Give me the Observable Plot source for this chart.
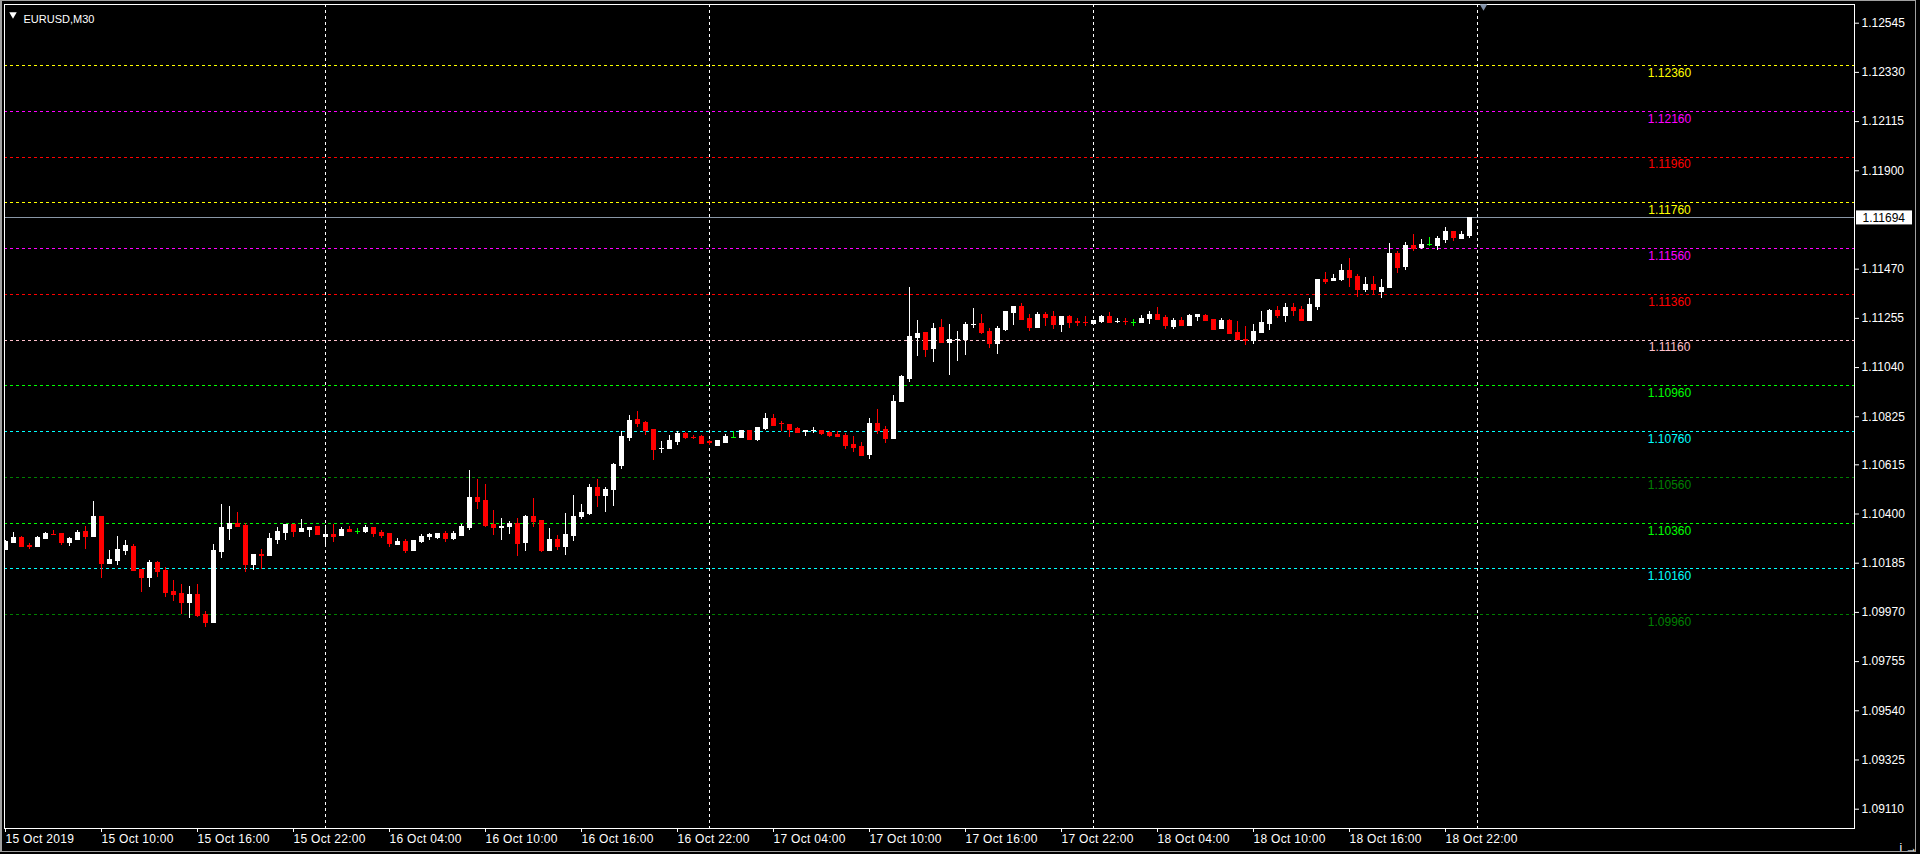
<!DOCTYPE html>
<html><head><meta charset="utf-8">
<script src="https://cdn.jsdelivr.net/npm/d3@7"></script>
<script src="https://cdn.jsdelivr.net/npm/@observablehq/plot@0.6"></script>
<style>
html,body{margin:0;padding:0;background:#000;width:1920px;height:854px;overflow:hidden;}
#chart{position:absolute;left:0;top:0;}
#edge{position:absolute;left:0;top:0;width:1913px;height:850px;border:1px solid #a0a0a0;border-left:2px solid #a0a0a0;pointer-events:none;}
</style></head><body>
<div id="chart"></div><div id="edge"></div>
<script>
const symbolTitle = "EURUSD,M30";

// M30 bars, first bar 15 Oct 2019 04:00
const open = [
1.10244,1.10275,1.10296,1.10262,1.10257,1.10292,1.10312,1.10314,1.10275,1.10288,
1.10322,1.10301,1.10388,1.10183,1.10196,1.10240,1.10257,1.10157,1.10122,1.10188,
1.10153,1.10062,1.10053,1.10014,1.10048,1.09962,1.09927,1.10235,1.10335,1.10357,
1.10348,1.10179,1.10222,1.10218,1.10288,1.10318,1.10353,1.10322,1.10331,1.10344,
1.10302,1.10309,1.10305,1.10331,1.10324,1.10322,1.10340,1.10318,1.10314,1.10266,
1.10279,1.10240,1.10279,1.10301,1.10296,1.10314,1.10292,1.10305,1.10340,1.10474,
1.10457,1.10353,1.10343,1.10344,1.10357,1.10275,1.10388,1.10370,1.10240,1.10288,
1.10257,1.10305,1.10388,1.10401,1.10518,1.10483,1.10509,1.10614,1.10736,1.10814,
1.10801,1.10770,1.10686,1.10688,1.10718,1.10753,1.10736,1.10740,1.10715,1.10701,
1.10714,1.10735,1.10735,1.10766,1.10727,1.10774,1.10818,1.10797,1.10792,1.10774,
1.10761,1.10763,1.10766,1.10757,1.10748,1.10744,1.10705,1.10696,1.10661,1.10796,
1.10770,1.10731,1.10892,1.10992,1.11170,1.11192,1.11122,1.11214,1.11148,1.11162,
1.11161,1.11228,1.11231,1.11196,1.11144,1.11205,1.11279,1.11309,1.11253,1.11214,
1.11270,1.11261,1.11227,1.11261,1.11241,1.11238,1.11231,1.11240,1.11261,1.11240,
1.11243,1.11235,1.11235,1.11253,1.11274,1.11257,1.11218,1.11244,1.11222,1.11261,
1.11266,1.11248,1.11209,1.11244,1.11192,1.11163,1.11157,1.11192,1.11231,1.11288,
1.11266,1.11301,1.11292,1.11244,1.11309,1.11427,1.11422,1.11427,1.11466,1.11440,
1.11383,1.11401,1.11374,1.11392,1.11540,1.11483,1.11574,1.11566,1.11577,1.11574,
1.11600,1.11635,1.11605,1.11618];
const high = [
1.10285,1.10318,1.10301,1.10270,1.10303,1.10318,1.10327,1.10314,1.10296,1.10327,
1.10344,1.10453,1.10388,1.10240,1.10301,1.10283,1.10266,1.10157,1.10196,1.10192,
1.10166,1.10109,1.10092,1.10083,1.10092,1.09975,1.10266,1.10440,1.10435,1.10405,
1.10357,1.10222,1.10244,1.10314,1.10340,1.10353,1.10353,1.10374,1.10340,1.10344,
1.10348,1.10353,1.10340,1.10344,1.10335,1.10348,1.10340,1.10327,1.10314,1.10292,
1.10288,1.10283,1.10309,1.10314,1.10314,1.10322,1.10322,1.10353,1.10592,1.10553,
1.10527,1.10414,1.10379,1.10366,1.10379,1.10392,1.10466,1.10370,1.10335,1.10305,
1.10401,1.10483,1.10440,1.10527,1.10553,1.10518,1.10622,1.10761,1.10831,1.10848,
1.10805,1.10770,1.10718,1.10744,1.10761,1.10757,1.10744,1.10744,1.10722,1.10722,
1.10748,1.10761,1.10766,1.10766,1.10779,1.10840,1.10835,1.10805,1.10792,1.10779,
1.10766,1.10779,1.10766,1.10761,1.10761,1.10753,1.10740,1.10714,1.10818,1.10857,
1.10783,1.10918,1.11005,1.11392,1.11244,1.11192,1.11231,1.11248,1.11227,1.11196,
1.11235,1.11296,1.11270,1.11209,1.11218,1.11283,1.11309,1.11318,1.11274,1.11279,
1.11279,1.11283,1.11261,1.11266,1.11253,1.11261,1.11244,1.11266,1.11279,1.11253,
1.11253,1.11248,1.11266,1.11283,1.11301,1.11266,1.11253,1.11257,1.11270,1.11270,
1.11270,1.11248,1.11253,1.11248,1.11240,1.11218,1.11227,1.11283,1.11292,1.11309,
1.11322,1.11322,1.11309,1.11344,1.11427,1.11457,1.11448,1.11492,1.11518,1.11448,
1.11435,1.11440,1.11427,1.11583,1.11548,1.11587,1.11622,1.11601,1.11609,1.11614,
1.11653,1.11635,1.11635,1.11696];
const low = [
1.10241,1.10273,1.10257,1.10244,1.10255,1.10292,1.10305,1.10263,1.10257,1.10283,
1.10244,1.10296,1.10118,1.10179,1.10175,1.10218,1.10153,1.10057,1.10079,1.10122,
1.10035,1.10018,1.09962,1.09944,1.09948,1.09905,1.09922,1.10205,1.10283,1.10340,
1.10144,1.10153,1.10157,1.10214,1.10266,1.10283,1.10296,1.10318,1.10296,1.10309,
1.10259,1.10276,1.10302,1.10324,1.10311,1.10317,1.10296,1.10292,1.10253,1.10261,
1.10227,1.10235,1.10270,1.10283,1.10288,1.10275,1.10283,1.10301,1.10327,1.10418,
1.10340,1.10305,1.10283,1.10309,1.10214,1.10235,1.10340,1.10231,1.10235,1.10240,
1.10218,1.10279,1.10374,1.10392,1.10427,1.10405,1.10435,1.10596,1.10718,1.10779,
1.10744,1.10635,1.10666,1.10683,1.10701,1.10727,1.10727,1.10705,1.10701,1.10701,
1.10714,1.10731,1.10735,1.10727,1.10718,1.10766,1.10788,1.10761,1.10735,1.10757,
1.10740,1.10753,1.10744,1.10735,1.10740,1.10683,1.10670,1.10657,1.10640,1.10748,
1.10709,1.10731,1.10890,1.10975,1.11088,1.11083,1.11061,1.11144,1.11005,1.11066,
1.11092,1.11209,1.11183,1.11122,1.11096,1.11196,1.11222,1.11244,1.11196,1.11209,
1.11218,1.11205,1.11192,1.11209,1.11218,1.11218,1.11227,1.11231,1.11235,1.11231,
1.11222,1.11218,1.11235,1.11227,1.11248,1.11205,1.11205,1.11218,1.11222,1.11240,
1.11244,1.11201,1.11205,1.11188,1.11161,1.11135,1.11140,1.11192,1.11201,1.11253,
1.11235,1.11261,1.11244,1.11244,1.11288,1.11405,1.11414,1.11418,1.11388,1.11348,
1.11370,1.11357,1.11340,1.11388,1.11453,1.11466,1.11548,1.11557,1.11570,1.11553,
1.11583,1.11592,1.11600,1.11605];
const close = [
1.10282,1.10296,1.10257,1.10260,1.10296,1.10314,1.10310,1.10275,1.10292,1.10318,
1.10301,1.10388,1.10183,1.10201,1.10244,1.10261,1.10153,1.10122,1.10188,1.10148,
1.10057,1.10048,1.10014,1.10048,1.09957,1.09927,1.10240,1.10340,1.10357,1.10344,
1.10179,1.10222,1.10220,1.10292,1.10322,1.10353,1.10322,1.10335,1.10340,1.10309,
1.10309,1.10302,1.10331,1.10324,1.10324,1.10340,1.10314,1.10305,1.10270,1.10279,
1.10240,1.10283,1.10301,1.10309,1.10314,1.10292,1.10314,1.10344,1.10474,1.10453,
1.10348,1.10340,1.10345,1.10357,1.10270,1.10388,1.10366,1.10240,1.10288,1.10257,
1.10309,1.10388,1.10405,1.10518,1.10483,1.10509,1.10618,1.10740,1.10809,1.10796,
1.10766,1.10683,1.10688,1.10722,1.10753,1.10735,1.10734,1.10709,1.10713,1.10722,
1.10740,1.10735,1.10766,1.10727,1.10779,1.10818,1.10788,1.10795,1.10770,1.10757,
1.10764,1.10765,1.10753,1.10744,1.10740,1.10701,1.10692,1.10657,1.10796,1.10766,
1.10731,1.10890,1.11001,1.11174,1.11188,1.11118,1.11209,1.11148,1.11161,1.11164,
1.11227,1.11230,1.11192,1.11144,1.11209,1.11283,1.11309,1.11248,1.11214,1.11270,
1.11257,1.11227,1.11261,1.11235,1.11238,1.11235,1.11244,1.11261,1.11235,1.11242,
1.11241,1.11235,1.11253,1.11274,1.11248,1.11222,1.11244,1.11222,1.11266,1.11270,
1.11244,1.11205,1.11244,1.11188,1.11161,1.11160,1.11196,1.11235,1.11288,1.11266,
1.11301,1.11288,1.11244,1.11314,1.11427,1.11418,1.11431,1.11466,1.11435,1.11383,
1.11401,1.11379,1.11392,1.11540,1.11479,1.11574,1.11561,1.11579,1.11577,1.11605,
1.11635,1.11609,1.11622,1.11694];

const timeTickBars = [0,12,24,36,48,60,72,84,96,108,120,132,144,156,168,180];
const timeTickLabels = ["15 Oct 2019","15 Oct 10:00","15 Oct 16:00","15 Oct 22:00","16 Oct 04:00","16 Oct 10:00","16 Oct 16:00","16 Oct 22:00","17 Oct 04:00","17 Oct 10:00","17 Oct 16:00","17 Oct 22:00","18 Oct 04:00","18 Oct 10:00","18 Oct 16:00","18 Oct 22:00"];
const daySeparatorBars = [40, 88, 136, 184];

const priceTicks = [1.12545,1.12330,1.12115,1.11900,1.11470,1.11255,1.11040,1.10825,1.10615,1.10400,1.10185,1.09970,1.09755,1.09540,1.09325,1.09110];

const levelValues = [1.12360,1.12160,1.11960,1.11760,1.11560,1.11360,1.11160,1.10960,1.10760,1.10560,1.10360,1.10160,1.09960];
const levelColors = ["yellow","magenta","red","yellow","magenta","red","pink","lime","cyan","green","lime","cyan","green"];

const currentPrice = 1.11694;

const bars = open.map((o, i) => ({i, open: o, high: high[i], low: low[i], close: close[i]}));
const levels = levelValues.map((v, k) => ({value: v, color: levelColors[k]}));
const tickLabelMap = new Map(timeTickBars.map((b, k) => [b, timeTickLabels[k]]));
const candleColor = d => d.close > d.open ? "white" : d.close < d.open ? "red" : "lime";
const halfBody = 2.5 / 8;
const xDomain = [-0.125, 231.125];
const yDomain = [1.090256, 1.126267];

const chart = Plot.plot({
  width: 1920, height: 854,
  marginLeft: 4, marginTop: 4, marginRight: 66, marginBottom: 26,
  style: {background: "black", color: "white", fontFamily: "'Liberation Sans', Arial, sans-serif", fontSize: "12px"},
  x: {type: "linear", domain: xDomain},
  y: {type: "linear", domain: yDomain},
  marks: [
    Plot.ruleY(levels, {y: "value", stroke: "color", strokeDasharray: "3,3", shapeRendering: "crispEdges"}),
    Plot.ruleX(daySeparatorBars, {x: d => d, stroke: "white", strokeDasharray: "3,3", shapeRendering: "crispEdges"}),
    Plot.ruleY([currentPrice], {y: d => d, stroke: "#8996a6", shapeRendering: "crispEdges"}),
    Plot.ruleX(bars, {x: "i", y1: "low", y2: "high", stroke: candleColor, shapeRendering: "crispEdges", clip: true}),
    Plot.ruleX(bars, {x: "i", y1: "open", y2: "close", stroke: candleColor, strokeWidth: 5, shapeRendering: "crispEdges", clip: true}),
    Plot.ruleY(bars, {y: "close", x1: d => d.i - halfBody, x2: d => d.i + halfBody, stroke: candleColor, shapeRendering: "crispEdges", clip: true}),
    Plot.ruleY(bars, {y: "open", x1: d => d.i - halfBody, x2: d => d.i + halfBody, stroke: candleColor, shapeRendering: "crispEdges", clip: true}),
    Plot.frame({stroke: "white", shapeRendering: "crispEdges"}),
    Plot.text(levels, {y: "value", text: d => d.value.toFixed(5), fill: "color", frameAnchor: "right", dx: -185, dy: 7.5, textAnchor: "middle", fontSize: 12}),
    Plot.axisY(priceTicks, {anchor: "right", tickSize: 4, tickPadding: 3, tickFormat: d => d.toFixed(5), color: "white", fontSize: 12}),
    Plot.axisX(timeTickBars, {anchor: "bottom", tickSize: 4, tickPadding: 2, tickFormat: d => tickLabelMap.get(d), textAnchor: "start", color: "white", fontSize: 12}),
    Plot.rect([currentPrice], {x1: xDomain[1], x2: xDomain[1], y1: d => d, y2: d => d, insetLeft: 2, insetRight: -58, insetTop: -7, insetBottom: -7, fill: "white"}),
    Plot.text([currentPrice], {y: d => d, text: d => d.toFixed(5), frameAnchor: "right", dx: 8, textAnchor: "start", fill: "black", fontSize: 12}),
    Plot.text([symbolTitle], {text: d => d, frameAnchor: "top-left", dx: 19, dy: 11, textAnchor: "start", fill: "white", fontSize: 11}),
    Plot.dot([symbolTitle], {frameAnchor: "top-left", dx: 8.5, dy: 10, symbol: "triangle", r: 2.8, fill: "white", stroke: "none", rotate: 180}),
    Plot.dot([currentPrice], {frameAnchor: "top-right", dx: -371, dy: 2, symbol: "triangle", r: 2.8, fill: "#8090a8", stroke: "none", rotate: 180})
  ]
});
document.getElementById("chart").appendChild(chart);
Array.from(chart.querySelectorAll("text"))
  .filter(e => timeTickLabels.includes(e.textContent))
  .forEach(e => e.setAttribute("letter-spacing", "0.3px"));
</script>
</body></html>
